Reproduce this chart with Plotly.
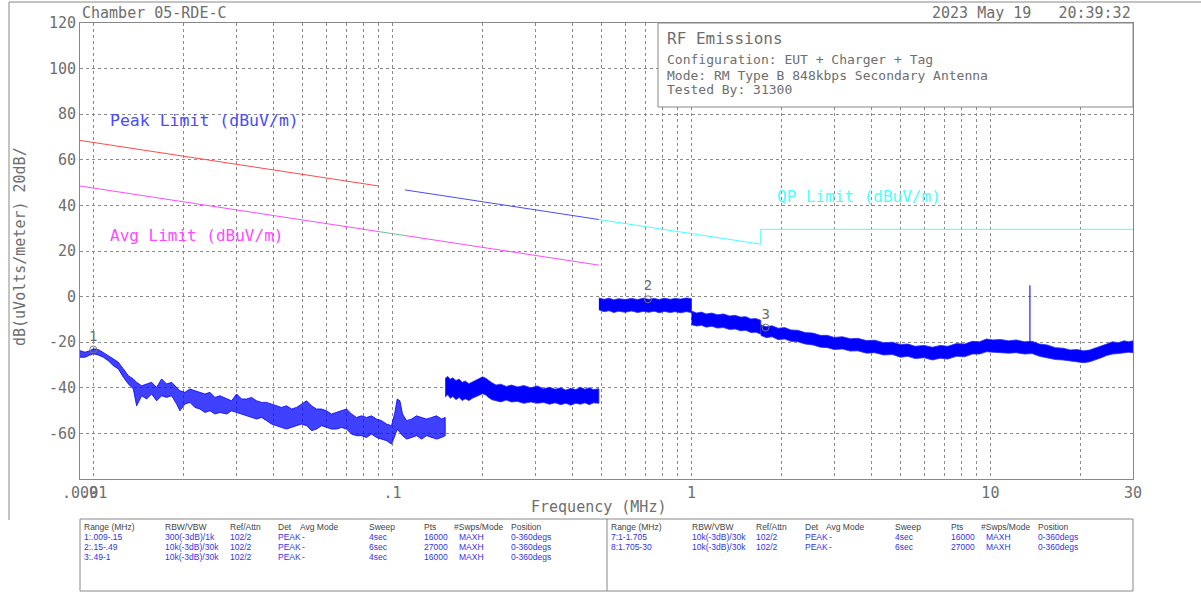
import plotly.graph_objects as go

# ---------------- measured emission trace (MHz, dBuV/m upper / lower envelope) ----------------
band1_f = [0.0090, 0.00935, 0.00972, 0.00997, 0.01036, 0.01077, 0.01119, 0.01163, 0.01209, 0.01257,
           0.01306, 0.01357, 0.01392, 0.01447, 0.01504, 0.01562, 0.01624, 0.01688, 0.01754, 0.01823,
           0.01894, 0.01943, 0.02020, 0.02099, 0.02181, 0.02267, 0.02356, 0.02449, 0.02545, 0.02644,
           0.02784, 0.02893, 0.03007, 0.03125, 0.03247, 0.03375, 0.03508, 0.03645, 0.03788, 0.03937,
           0.04092, 0.04252, 0.04419, 0.04592, 0.04772, 0.04960, 0.05154, 0.05356, 0.05566, 0.05785,
           0.06012, 0.06247, 0.06492, 0.06748, 0.07012, 0.07288, 0.07574, 0.07871, 0.08180, 0.08501,
           0.08834, 0.09186, 0.09548, 0.09922, 0.10179, 0.10363, 0.10578, 0.10797, 0.11140, 0.11577,
           0.12030, 0.12503, 0.12994, 0.13503, 0.14036, 0.14585, 0.1500]
band1_hi = [-23.7, -24.4, -23.7, -22.9, -23.2, -24.4, -25.9, -27.3, -28.8, -31.7,
            -34.7, -36.1, -37.6, -39.1, -38.3, -37.6, -39.8, -36.1, -38.3, -37.6,
            -39.8, -41.3, -42.0, -40.5, -41.3, -42.0, -42.7, -42.0, -44.2, -43.5,
            -44.9, -45.7, -42.7, -44.9, -44.9, -44.2, -45.7, -46.4, -46.4, -47.1,
            -47.9, -48.6, -47.9, -49.3, -48.6, -47.1, -45.7, -47.9, -49.3, -49.3,
            -50.1, -51.5, -50.8, -50.1, -49.3, -51.5, -53.0, -52.3, -53.0, -52.3,
            -53.7, -54.4, -55.9, -56.6, -50.8, -44.9, -45.7, -51.5, -54.4, -53.7,
            -52.3, -53.0, -53.7, -53.0, -52.3, -53.7, -53.0]
band1_lo = [-26.6, -26.6, -25.6, -25.1, -25.6, -26.6, -28.1, -30.3, -31.7, -35.4,
            -38.3, -40.5, -47.9, -43.5, -44.9, -42.7, -45.7, -43.5, -44.2, -43.5,
            -47.1, -50.1, -47.1, -46.4, -48.6, -49.3, -50.8, -50.1, -51.5, -50.8,
            -51.5, -50.1, -50.8, -51.5, -52.3, -53.0, -53.7, -53.0, -54.4, -55.9,
            -56.6, -57.4, -58.1, -57.4, -56.6, -55.9, -56.6, -58.8, -58.1, -56.6,
            -57.4, -58.1, -58.1, -57.4, -58.1, -60.3, -61.0, -61.0, -61.8, -60.3,
            -61.8, -62.5, -63.2, -64.7, -61.0, -58.1, -59.6, -61.0, -62.5, -61.8,
            -61.0, -62.5, -61.0, -61.8, -62.5, -61.8, -61.0]

band2_f = [0.150, 0.153, 0.156, 0.159, 0.163, 0.167, 0.171, 0.175, 0.180, 0.185,
           0.190, 0.195, 0.200, 0.205, 0.210, 0.215, 0.222, 0.230, 0.240, 0.250,
           0.262, 0.275, 0.290, 0.305, 0.320, 0.335, 0.350, 0.365, 0.380, 0.395,
           0.410, 0.425, 0.440, 0.455, 0.470, 0.490]
band2_hi = [-35.8, -35.0, -36.2, -35.6, -36.8, -36.2, -37.6, -37.0, -38.2, -37.4,
            -36.8, -36.0, -35.2, -35.8, -37.0, -37.8, -38.8, -38.4, -39.4, -38.8,
            -39.6, -39.0, -40.0, -39.2, -40.4, -39.8, -40.6, -40.0, -41.0, -40.2,
            -40.8, -39.8, -40.6, -40.0, -40.8, -40.4]
band2_lo = [-44.0, -43.0, -44.6, -43.8, -45.2, -44.2, -45.6, -44.8, -45.6, -44.6,
            -44.0, -43.2, -42.6, -43.2, -44.4, -45.2, -45.8, -46.2, -45.4, -46.2,
            -46.0, -46.8, -46.2, -46.8, -46.4, -47.2, -46.6, -47.4, -46.8, -47.6,
            -46.8, -47.2, -46.6, -47.4, -46.6, -46.8]

band3_f = [0.490, 0.51, 0.53, 0.55, 0.57, 0.60, 0.63, 0.66, 0.69, 0.72,
           0.75, 0.78, 0.81, 0.85, 0.88, 0.92, 0.96, 1.00]
band3_hi = [-0.6, -1.2, -0.7, -1.4, -0.9, -1.3, -0.8, -1.3, -0.7, -1.2,
            -0.8, -1.3, -0.7, -1.2, -0.8, -1.1, -0.6, -0.9]
band3_lo = [-5.8, -6.6, -6.2, -7.0, -6.4, -6.9, -6.3, -7.0, -6.5, -6.9,
            -6.4, -7.1, -6.5, -7.0, -6.6, -7.1, -6.6, -7.0]

band4_f = [1.00, 1.04, 1.08, 1.12, 1.17, 1.22, 1.28, 1.34, 1.40, 1.46, 1.52, 1.58, 1.64, 1.705]
band4_hi = [-6.3, -7.2, -6.8, -7.6, -7.2, -8.0, -7.6, -8.5, -8.2, -9.0, -8.8, -9.8, -9.6, -10.4]
band4_lo = [-12.3, -12.9, -12.6, -13.4, -13.0, -13.8, -13.6, -14.4, -14.2, -15.0, -14.8, -15.8, -15.6, -16.4]

band5_f = [1.705, 1.78, 1.86, 1.95, 2.05, 2.15, 2.27, 2.40, 2.55, 2.70,
           2.85, 3.00, 3.20, 3.40, 3.60, 3.85, 4.10, 4.40, 4.70, 5.00,
           5.30, 5.60, 6.00, 6.40, 6.80, 7.20, 7.70, 8.20, 8.70, 9.20,
           9.70, 10.2, 10.8, 11.5, 12.2, 13.0, 13.8, 14.6, 15.5, 16.5,
           17.5, 18.5, 19.5, 20.5, 21.5, 22.5, 23.5, 24.5, 25.6, 26.8,
           28.0, 29.0, 30.0]
band5_hi = [-12.4, -13.2, -12.8, -13.9, -13.6, -14.6, -14.8, -15.8, -16.0, -17.0,
            -17.0, -17.9, -17.6, -18.5, -18.3, -19.3, -19.1, -20.2, -20.0, -21.0,
            -20.8, -21.8, -21.4, -22.2, -21.4, -21.8, -20.6, -20.8, -19.6, -19.8,
            -18.6, -19.0, -18.8, -19.4, -19.0, -19.8, -19.6, -20.8, -21.2, -22.4,
            -22.6, -23.4, -23.2, -23.8, -23.4, -22.6, -21.6, -20.8, -19.8, -20.2,
            -19.4, -19.8, -19.4]
band5_lo = [-17.0, -18.0, -17.6, -18.9, -18.6, -19.6, -19.8, -20.8, -21.2, -22.2,
            -22.4, -23.2, -23.0, -23.9, -23.8, -24.8, -24.6, -25.6, -25.4, -26.6,
            -26.2, -27.2, -26.8, -27.8, -27.0, -27.4, -26.2, -26.4, -25.2, -25.2,
            -24.2, -24.4, -24.6, -24.8, -24.6, -25.2, -25.0, -26.2, -26.8, -27.6,
            -27.8, -28.4, -28.6, -29.0, -28.6, -27.8, -26.8, -25.8, -25.2, -25.0,
            -24.8, -24.4, -24.6]

spike_f = [13.56, 13.56]
spike_db = [-20.0, 5.0]

# ---------------- limit lines (dBuV/m) ----------------
peak1_f, peak1_db = [0.009, 0.09], [68.5, 48.5]
peak2_f, peak2_db = [0.11, 0.49], [46.8, 33.8]
avg1_f, avg1_db = [0.009, 0.09], [48.5, 28.5]
avg2_f, avg2_db = [0.11, 0.49], [26.8, 13.8]
qp1_f, qp1_db = [0.09, 0.11], [28.5, 26.8]
qp2_f, qp2_db = [0.49, 1.705, 1.705, 30.0], [33.8, 23.0, 29.5, 29.5]

# ---------------- markers ----------------
mk_f = [0.00997, 0.715, 1.77]
mk_db = [-23.2, -1.2, -13.6]
mk_lbl = ["1", "2", "3"]

# ---------------- axes ----------------
y_ticks = [-60, -40, -20, 0, 20, 40, 60, 80, 100, 120]
x_grid = [0.009, 0.01, 0.02, 0.03, 0.04, 0.05, 0.06, 0.07, 0.08, 0.09,
          0.1, 0.2, 0.3, 0.4, 0.5, 0.6, 0.7, 0.8, 0.9,
          1, 2, 3, 4, 5, 6, 7, 8, 9, 10, 20, 30]
x_labels = {0.009: ".009", 0.01: ".01", 0.1: ".1", 1: "1", 10: "10", 30: "30"}

# ---------------- scan table ----------------
tbl_head = ["Range (MHz)", "RBW/VBW", "Ref/Attn", "Det", "Avg Mode", "Sweep", "Pts", "#Swps/Mode", "Position"]
tbl_left = [
    ["1:.009-.15", "300(-3dB)/1k", "102/2", "PEAK", "-", "4sec", "16000", "MAXH", "0-360degs"],
    ["2:.15-.49", "10k(-3dB)/30k", "102/2", "PEAK", "-", "6sec", "27000", "MAXH", "0-360degs"],
    ["3:.49-1", "10k(-3dB)/30k", "102/2", "PEAK", "-", "4sec", "16000", "MAXH", "0-360degs"],
]
tbl_right = [
    ["7:1-1.705", "10k(-3dB)/30k", "102/2", "PEAK", "-", "4sec", "16000", "MAXH", "0-360degs"],
    ["8:1.705-30", "10k(-3dB)/30k", "102/2", "PEAK", "-", "6sec", "27000", "MAXH", "0-360degs"],
]

FONT = "DejaVu Sans Mono"
TFONT = "Liberation Sans"
GREY = "#6e6e6e"
W, H = 1201, 592
L, R, T, B = 80, 1133, 23, 479


def xp(px):
    return (px - L) / (R - L)


def yp(py):
    return (B - py) / (B - T)


fig = go.Figure()

# limit lines
for fx, fy, col in [(peak1_f, peak1_db, "#ff4a4a"), (peak2_f, peak2_db, "#4a4aff"),
                    (avg1_f, avg1_db, "#ff4aff"), (avg2_f, avg2_db, "#ff4aff"),
                    (qp1_f, qp1_db, "#6fbf9a"), (qp2_f, qp2_db, "#4affff")]:
    fig.add_trace(go.Scatter(x=fx, y=fy, mode="lines", line=dict(color=col, width=1),
                             hoverinfo="skip", showlegend=False))

# emission trace: first band is a noisy line, the others dense filled sweeps
fig.add_trace(go.Scatter(x=band1_f + band1_f[::-1], y=band1_hi + band1_lo[::-1], mode="lines",
                         fill="toself", fillcolor="rgba(0,0,255,0.75)",
                         line=dict(color="#0000ff", width=0.8),
                         hoverinfo="skip", showlegend=False))
for bf, bh, bl in [(band2_f, band2_hi, band2_lo), (band3_f, band3_hi, band3_lo),
                   (band4_f, band4_hi, band4_lo), (band5_f, band5_hi, band5_lo)]:
    fig.add_trace(go.Scatter(x=bf + bf[::-1], y=bh + bl[::-1], mode="lines", fill="toself",
                             fillcolor="#0000ff", line=dict(color="#2a2aff", width=0.8),
                             hoverinfo="skip", showlegend=False))
fig.add_trace(go.Scatter(x=spike_f, y=spike_db, mode="lines", line=dict(color="#2222ff", width=1.2),
                         hoverinfo="skip", showlegend=False))

# markers
fig.add_trace(go.Scatter(x=mk_f, y=mk_db, mode="markers+text", text=mk_lbl,
                         textposition="top center",
                         textfont=dict(family=FONT, size=14, color=GREY),
                         marker=dict(symbol="circle-open", size=7, color="#777777", line=dict(width=1)),
                         hoverinfo="skip", showlegend=False))

fig.update_xaxes(type="log", range=[-2.04576, 1.47712],
                 tickvals=x_grid, ticktext=[x_labels.get(v, "") for v in x_grid],
                 tickangle=0, ticks="", tickfont=dict(family=FONT, size=15, color=GREY),
                 showgrid=True, gridcolor="#8a8a8a", griddash="dot", gridwidth=1,
                 showline=True, linecolor="#888888", linewidth=1, mirror=True, zeroline=False)
fig.update_yaxes(range=[-80, 120], tickvals=y_ticks, ticktext=[str(v) for v in y_ticks],
                 ticks="", tickfont=dict(family=FONT, size=15, color=GREY),
                 showgrid=True, gridcolor="#8a8a8a", griddash="dot", gridwidth=1,
                 showline=True, linecolor="#888888", linewidth=1, mirror=True, zeroline=False)

shapes = [
    # outer frame
    dict(type="line", xref="paper", yref="paper", x0=xp(9), x1=xp(1201), y0=yp(2), y1=yp(2),
         line=dict(color="#888888", width=1)),
    dict(type="line", xref="paper", yref="paper", x0=xp(9), x1=xp(9), y0=yp(2), y1=yp(520),
         line=dict(color="#888888", width=1)),
    # info box
    dict(type="rect", xref="paper", yref="paper", x0=xp(658), x1=xp(1133), y0=yp(107), y1=yp(23),
         fillcolor="white", line=dict(color="#888888", width=1), layer="above"),
    # scan table
    dict(type="rect", xref="paper", yref="paper", x0=xp(80), x1=xp(1133), y0=yp(591), y1=yp(519),
         line=dict(color="#888888", width=1)),
    dict(type="line", xref="paper", yref="paper", x0=xp(607), x1=xp(607), y0=yp(591), y1=yp(519),
         line=dict(color="#888888", width=1)),
]

ann = []


def text(px, py, s, size, color=GREY, anchor="left", family=FONT, angle=0):
    ann.append(dict(xref="paper", yref="paper", x=xp(px), y=yp(py), text=s, showarrow=False,
                    xanchor=anchor, yanchor="middle", textangle=angle,
                    font=dict(family=family, size=size, color=color)))


text(80, 13, "Chamber 05-RDE-C", 15)
text(1133, 13, "2023 May 19   20:39:32", 15, anchor="right")
text(665, 38, "RF Emissions", 16)
text(665, 60, "Configuration: EUT + Charger + Tag", 13)
text(665, 75, "Mode: RM Type B 848kbps Secondary Antenna", 13)
text(665, 89, "Tested By: 31300", 13)
text(108, 120, "Peak Limit (dBuV/m)", 16.5, color="#4a4aff")
text(108, 236, "Avg Limit (dBuV/m)", 16, color="#ff4aff")
text(775, 197, "QP Limit (dBuV/m)", 16, color="#4affff")
text(598, 507, "Frequency (MHz)", 15, anchor="center")
text(20, 247, "dB(uVolts/meter) 20dB/", 15, anchor="center", angle=-90)

head_l = [82, 163, 228, 276, 298, 367, 422, 452, 509]
row_l = [82, 163, 228, 276, 300, 367, 422, 457, 509]
head_r = [609, 690, 754, 803, 824, 893, 949, 979, 1036]
row_r = [609, 690, 754, 803, 827, 893, 949, 984, 1036]
for cols, rcols, rows in [(head_l, row_l, tbl_left), (head_r, row_r, tbl_right)]:
    for cx, h in zip(cols, tbl_head):
        text(cx, 527, h, 8.5, color="#444444", family=TFONT)
    for i, row in enumerate(rows):
        for cx, v in zip(rcols, row):
            text(cx, 537 + 10 * i, v, 8.5, color="#3333ee", family=TFONT)

fig.update_layout(width=W, height=H, margin=dict(l=L, r=W - R, t=T, b=H - B),
                  paper_bgcolor="white", plot_bgcolor="white", showlegend=False,
                  shapes=shapes, annotations=ann)

fig.write_html("out.html")
